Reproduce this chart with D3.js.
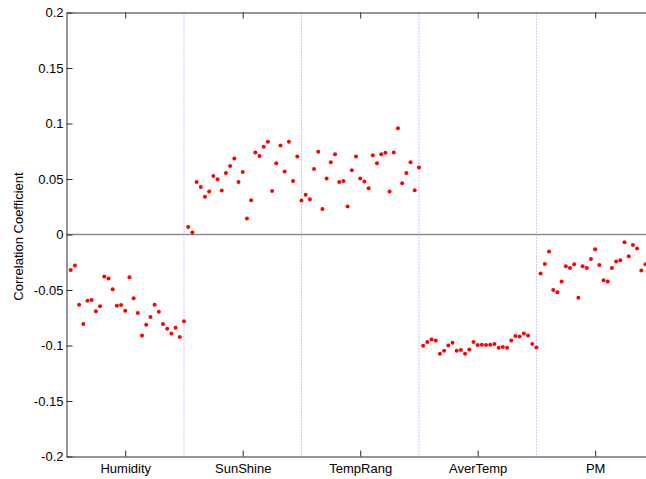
<!DOCTYPE html>
<html>
<head>
<meta charset="utf-8">
<script src="https://cdn.jsdelivr.net/npm/d3@7"></script>
<style>
  html, body { margin: 0; padding: 0; background: #fff; }
  svg { display: block; }
  text { font-family: "Liberation Sans", Arial, Helvetica, sans-serif; }
</style>
</head>
<body>
<svg id="chart" width="646" height="479"></svg>
<script>
// Correlation coefficients per variable group (28 samples per group)
const categories = ["Humidity", "SunShine", "TempRang", "AverTemp", "PM"];

const humidity = [
  -0.0320, -0.0280, -0.0632, -0.0807, -0.0596, -0.0590, -0.0692, -0.0647,
  -0.0379, -0.0397, -0.0494, -0.0641, -0.0635, -0.0686, -0.0386, -0.0575,
  -0.0708, -0.0911, -0.0812, -0.0744, -0.0632, -0.0695, -0.0807, -0.0848,
  -0.0893, -0.0839, -0.0924, -0.0782
];
const sunShine = [
  0.0068, 0.0018, 0.0474, 0.0429, 0.0339, 0.0387, 0.0528, 0.0498,
  0.0396, 0.0555, 0.0616, 0.0685, 0.0474, 0.0564, 0.0144, 0.0309,
  0.0739, 0.0708, 0.0790, 0.0835, 0.0393, 0.0643, 0.0802, 0.0568,
  0.0835, 0.0483, 0.0703, 0.0306
];
const tempRang = [
  0.0357, 0.0318, 0.0591, 0.0745, 0.0230, 0.0505, 0.0652, 0.0724,
  0.0474, 0.0483, 0.0252, 0.0579, 0.0703, 0.0505, 0.0478, 0.0417,
  0.0715, 0.0643, 0.0724, 0.0736, 0.0387, 0.0739, 0.0958, 0.0462,
  0.0555, 0.0652, 0.0399, 0.0604
];
const averTemp = [
  -0.1002, -0.0969, -0.0947, -0.0954, -0.1074, -0.1047, -0.0999, -0.0975,
  -0.1047, -0.1041, -0.1074, -0.1035, -0.0969, -0.0996, -0.0993, -0.0996,
  -0.0993, -0.0987, -0.1020, -0.1014, -0.1020, -0.0954, -0.0915, -0.0920,
  -0.0893, -0.0911, -0.0987, -0.1017
];
const pm = [
  -0.0352, -0.0266, -0.0154, -0.0500, -0.0521, -0.0424, -0.0286, -0.0302,
  -0.0268, -0.0569, -0.0286, -0.0302, -0.0221, -0.0133, -0.0275, -0.0413,
  -0.0424, -0.0302, -0.0244, -0.0232, -0.0070, -0.0196, -0.0094, -0.0127,
  -0.0325, -0.0268
];

const groupSize = 28;
const yTicks = [-0.2, -0.15, -0.1, -0.05, 0, 0.05, 0.1, 0.15, 0.2];

// Flatten groups into a running sample index 1..N
const groups = [humidity, sunShine, tempRang, averTemp, pm];
const points = [];
groups.forEach((vals, g) => {
  vals.forEach((v, i) => points.push({ idx: g * groupSize + i + 1, value: v }));
});
const nTotal = groups.length * groupSize;

const svg = d3.select("#chart");

const x = d3.scaleLinear().domain([0, nTotal]).range([66.5, 653.9]);
const y = d3.scaleLinear().domain([-0.2, 0.2]).range([456.5, 12.5]);

const axisColor = "#2b2b2b";

// Zero reference line
svg.append("line")
  .attr("x1", x(0)).attr("x2", x(nTotal))
  .attr("y1", y(0)).attr("y2", y(0))
  .attr("stroke", "#8c8c8c")
  .attr("stroke-width", 1.5);

// Group separators
const separators = d3.range(1, groups.length).map(g => g * groupSize);
svg.selectAll("line.sep")
  .data(separators)
  .join("line")
  .attr("class", "sep")
  .attr("x1", d => x(d)).attr("x2", d => x(d))
  .attr("y1", y(0.2)).attr("y2", y(-0.2))
  .attr("stroke", "#8a8aff")
  .attr("stroke-width", 1)
  .attr("stroke-dasharray", "1,2");

// Axes (MATLAB-style box with inward ticks)
const fmt = d => String(+d.toFixed(2));

const gLeft = svg.append("g")
  .attr("transform", `translate(${x(0)},0)`)
  .call(d3.axisLeft(y).tickValues(yTicks).tickFormat(fmt)
    .tickSizeInner(-6).tickSizeOuter(0).tickPadding(3));

const gRight = svg.append("g")
  .attr("transform", `translate(${x(nTotal)},0)`)
  .call(d3.axisRight(y).tickValues(yTicks).tickFormat("")
    .tickSizeInner(-6).tickSizeOuter(0));

const catTicks = categories.map((c, i) => i * groupSize + groupSize / 2);

const gBottom = svg.append("g")
  .attr("transform", `translate(0,${y(-0.2)})`)
  .call(d3.axisBottom(x).tickValues(catTicks)
    .tickFormat((d, i) => categories[i])
    .tickSizeInner(-6).tickSizeOuter(0).tickPadding(7));

const gTop = svg.append("g")
  .attr("transform", `translate(0,${y(0.2)})`)
  .call(d3.axisTop(x).tickValues(catTicks).tickFormat("")
    .tickSizeInner(-6).tickSizeOuter(0));

[gLeft, gRight, gBottom, gTop].forEach(g => {
  g.selectAll("path.domain").attr("stroke", axisColor);
  g.selectAll(".tick line").attr("stroke", axisColor);
  g.selectAll("text")
    .attr("fill", "#000")
    .style("font-size", "13px")
    .style("font-family", '"Liberation Sans", Arial, Helvetica, sans-serif');
});

// Data points
svg.append("g")
  .selectAll("circle")
  .data(points)
  .join("circle")
  .attr("cx", d => x(d.idx))
  .attr("cy", d => y(d.value))
  .attr("r", 2)
  .attr("fill", "#ff0000");

// Y-axis title
svg.append("text")
  .attr("transform", `translate(23,${(y(0.2) + y(-0.2)) / 2 + 2}) rotate(-90)`)
  .attr("text-anchor", "middle")
  .style("font-size", "13px")
  .attr("fill", "#000")
  .text("Correlation Coefficient");
</script>
</body>
</html>
